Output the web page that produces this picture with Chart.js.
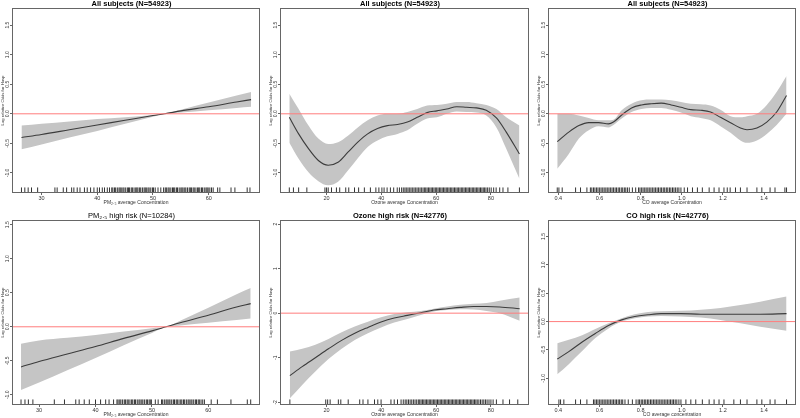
<!DOCTYPE html>
<html>
<head>
<meta charset="utf-8">
<script src="https://cdn.jsdelivr.net/npm/chart.js@4.4.0/dist/chart.umd.min.js"></script>
<style>
  html, body { margin: 0; padding: 0; background: #fff; overflow: hidden; }
  body { width: 800px; height: 418px; position: relative; }
  canvas { position: absolute; }
</style>
</head>
<body>
<canvas id="p1" width="265" height="207" style="left:0px;top:-1px"></canvas>
<canvas id="p2" width="266" height="207" style="left:268px;top:-1px"></canvas>
<canvas id="p3" width="265" height="207" style="left:536px;top:-1px"></canvas>
<canvas id="p4" width="265" height="207" style="left:0px;top:211px"></canvas>
<canvas id="p5" width="266" height="207" style="left:268px;top:211px"></canvas>
<canvas id="p6" width="265" height="207" style="left:536px;top:211px"></canvas>
<script>
// tick labels
const pmTicks = [30, 40, 50, 60];
const ozoneTicks = [20, 40, 60, 80];
const coTicks = [0.4, 0.6, 0.8, 1.0, 1.2, 1.4];
const oddsTicks = [-1.0, -0.5, 0.0, 0.5, 1.0, 1.5];
const oddsTicksWide = [-2, -1, 0, 1, 2];

// PM2.5, all subjects
const pmAllX = [26.4, 30, 35, 40, 45, 50, 52.1, 55, 60, 65, 67.6];
const pmAllFit = [-0.40, -0.35, -0.27, -0.19, -0.11, -0.03, 0, 0.05, 0.12, 0.20, 0.24];
const pmAllUpper = [-0.20, -0.17, -0.13, -0.09, -0.06, -0.02, 0, 0.07, 0.19, 0.31, 0.37];
const pmAllLower = [-0.60, -0.52, -0.40, -0.29, -0.17, -0.05, 0, 0.02, 0.06, 0.10, 0.12];
const rugPmAll = [26.4, 27.0, 27.6, 28.2, 29.3, 32.4, 32.8, 33.9, 34.5, 35.4, 35.8, 36.4, 36.9, 37.7, 38.2, 38.8, 39.4,
  40.0, 40.4, 40.9, 41.3, 41.8, 42.2, 42.6, 42.8, 43.1, 43.3, 43.6, 43.9, 44.1, 44.3, 44.6, 44.8, 45.1, 45.4, 45.6, 45.8,
  46.1, 46.3, 46.6, 46.9, 47.1, 47.3, 47.6, 47.8, 48.1, 48.4, 48.6, 48.8, 49.1, 49.3, 49.6, 49.9, 50.1, 50.4, 50.9, 51.4,
  51.9, 52.2, 52.4, 52.7, 52.9, 53.2, 53.5, 53.7, 53.9, 54.2, 54.4, 54.7, 55.0, 55.2, 55.4, 55.7, 55.9, 56.2, 56.5, 56.7,
  56.9, 57.2, 57.4, 57.7, 58.0, 58.2, 58.4, 58.7, 58.9, 59.2, 59.5, 59.7, 59.9, 60.2, 60.5, 60.8, 61.6, 62.0, 64.0, 64.7,
  66.9, 67.4];

// Ozone, all subjects
const ozAllX = [6.4, 9.8, 13.4, 17.0, 20.6, 24.2, 27.8, 31.4, 35.0, 38.6, 42.2, 45.9, 49.5, 53.1, 56.7, 60.3, 63.9, 67.5, 71.1, 74.7, 78.3, 82.0, 85.6, 90.4];
const ozAllFit = [-0.06, -0.34, -0.59, -0.79, -0.87, -0.82, -0.65, -0.48, -0.34, -0.25, -0.20, -0.18, -0.14, -0.06, 0.02, 0.05, 0.08, 0.12, 0.11, 0.10, 0.06, -0.07, -0.31, -0.68];
const ozAllUpper = [0.34, 0.08, -0.20, -0.42, -0.51, -0.48, -0.37, -0.23, -0.11, -0.03, 0.00, 0.00, 0.03, 0.08, 0.14, 0.15, 0.17, 0.20, 0.20, 0.18, 0.15, 0.08, -0.06, -0.20];
const ozAllLower = [-0.49, -0.76, -0.99, -1.14, -1.21, -1.15, -0.96, -0.75, -0.56, -0.45, -0.38, -0.34, -0.28, -0.17, -0.08, -0.06, 0.00, 0.04, 0.03, 0.02, -0.03, -0.23, -0.59, -1.10];
const rugOzAll = [6.4, 7.9, 9.8, 12.8, 19.4, 20.0, 20.6, 21.8, 23.6, 24.8, 27.0, 28.1, 30.2, 31.7, 33.8, 36.0, 38.0, 39.1,
  40.2, 41.0, 42.1, 43.3, 44.5, 45.8, 46.6, 47.4, 48.0, 48.6, 49.1, 49.7, 50.2, 50.8, 51.3, 51.9, 52.4, 53.0, 53.5, 54.1,
  54.6, 55.2, 55.7, 56.2, 56.7, 57.2, 57.7, 58.2, 58.7, 59.2, 59.7, 60.2, 60.7, 61.2, 61.7, 62.2, 62.7, 63.2, 63.7, 64.2,
  64.7, 65.2, 65.7, 66.2, 66.7, 67.2, 67.7, 68.2, 68.7, 69.2, 69.7, 70.2, 70.7, 71.2, 71.7, 72.2, 72.7, 73.2, 73.7, 74.2,
  74.7, 75.2, 75.7, 76.2, 76.7, 77.2, 77.7, 78.2, 78.8, 79.4, 80.1, 81.0, 81.9, 83.2, 84.4, 86.2, 90.4];

// CO, all subjects
const coAllX = [0.395, 0.451, 0.500, 0.548, 0.596, 0.644, 0.668, 0.708, 0.756, 0.804, 0.852, 0.900, 0.948, 0.996, 1.044, 1.092, 1.140, 1.188, 1.237, 1.285, 1.317, 1.365, 1.413, 1.461, 1.509];
const coAllFit = [-0.47, -0.31, -0.20, -0.15, -0.15, -0.17, -0.14, -0.02, 0.10, 0.15, 0.17, 0.18, 0.15, 0.11, 0.07, 0.06, 0.03, -0.06, -0.15, -0.24, -0.27, -0.24, -0.14, 0.03, 0.31];
const coAllUpper = [0.00, 0.00, -0.03, -0.07, -0.11, -0.11, -0.10, 0.06, 0.17, 0.23, 0.24, 0.24, 0.23, 0.20, 0.17, 0.16, 0.14, 0.07, -0.04, -0.06, -0.04, 0.00, 0.15, 0.37, 0.64];
const coAllLower = [-0.93, -0.68, -0.42, -0.28, -0.21, -0.23, -0.19, -0.08, 0.03, 0.08, 0.10, 0.10, 0.07, 0.02, -0.04, -0.07, -0.11, -0.21, -0.32, -0.45, -0.49, -0.45, -0.34, -0.19, 0.00];
const rugCoAll = [0.395, 0.403, 0.419, 0.484, 0.508, 0.539, 0.556, 0.563, 0.571, 0.578, 0.586, 0.593, 0.601, 0.608, 0.616,
  0.623, 0.631, 0.638, 0.646, 0.653, 0.661, 0.668, 0.676, 0.683, 0.691, 0.698, 0.706, 0.713, 0.721, 0.728, 0.736, 0.745,
  0.760, 0.776, 0.790, 0.797, 0.805, 0.812, 0.820, 0.827, 0.835, 0.842, 0.850, 0.857, 0.865, 0.872, 0.880, 0.887, 0.895,
  0.902, 0.910, 0.917, 0.925, 0.932, 0.940, 0.947, 0.955, 0.962, 0.970, 0.978, 0.986, 0.996, 1.012, 1.028, 1.052, 1.076,
  1.100, 1.133, 1.157, 1.181, 1.205, 1.221, 1.235, 1.261, 1.285, 1.317, 1.365, 1.389, 1.429, 1.453, 1.501, 1.509];

// PM2.5 high risk
const pmHighX = [26.8, 30, 35, 40, 45, 50, 52.5, 55, 60, 65, 67.5];
const pmHighFit = [-0.59, -0.51, -0.40, -0.29, -0.17, -0.06, 0, 0.06, 0.17, 0.29, 0.34];
const pmHighUpper = [-0.25, -0.20, -0.16, -0.12, -0.07, -0.02, 0, 0.09, 0.28, 0.48, 0.57];
const pmHighLower = [-0.93, -0.82, -0.64, -0.46, -0.27, -0.09, 0, 0.02, 0.06, 0.10, 0.12];
const rugPmHigh = [26.8, 27.5, 28.1, 28.9, 32.7, 34.5, 36.5, 37.1, 38.0, 38.9, 40.0, 40.9, 41.8, 42.4, 43.2, 43.8, 44.0,
  44.3, 44.5, 44.8, 45.1, 45.3, 45.6, 45.8, 46.1, 46.4, 46.6, 46.9, 47.1, 47.4, 47.7, 47.9, 48.2, 48.4, 48.7, 49.0, 49.2,
  49.5, 49.7, 49.9, 50.6, 51.1, 51.7, 51.9, 52.2, 52.5, 52.7, 53.0, 53.2, 53.5, 53.8, 54.0, 54.3, 54.5, 54.8, 55.1, 55.3,
  55.6, 55.8, 56.1, 56.4, 56.6, 56.9, 57.1, 57.4, 57.7, 57.9, 58.2, 58.4, 58.7, 59.0, 59.3, 60.5, 61.6, 64.0, 66.9, 67.5];

// Ozone high risk
const ozHighX = [6.6, 11.1, 15.9, 20.7, 25.5, 30.3, 35.1, 39.9, 44.7, 49.5, 54.4, 59.2, 64.0, 68.8, 73.6, 78.4, 83.2, 90.5];
const ozHighFit = [-1.40, -1.20, -1.00, -0.80, -0.61, -0.45, -0.32, -0.20, -0.11, -0.05, 0.01, 0.07, 0.10, 0.13, 0.15, 0.15, 0.14, 0.10];
const ozHighUpper = [-0.86, -0.80, -0.71, -0.58, -0.43, -0.30, -0.19, -0.09, -0.02, 0.02, 0.05, 0.10, 0.15, 0.19, 0.21, 0.23, 0.28, 0.35];
const ozHighLower = [-1.91, -1.61, -1.31, -1.03, -0.80, -0.60, -0.45, -0.32, -0.21, -0.13, -0.04, 0.04, 0.07, 0.09, 0.08, 0.05, 0.00, -0.17];
const rugOzHigh = [6.6, 19.7, 20.4, 21.3, 24.3, 25.2, 27.9, 32.1, 33.3, 35.1, 37.5, 38.7, 39.9, 43.5, 44.7, 45.9, 47.2,
  48.0, 48.7, 49.3, 49.9, 50.5, 51.1, 51.7, 52.3, 52.9, 53.5, 54.0, 54.5, 55.0, 55.5, 56.0, 56.5, 57.0, 57.5, 58.0, 58.5,
  59.0, 59.5, 60.0, 60.5, 61.0, 61.5, 62.0, 62.5, 63.0, 63.5, 64.0, 64.5, 65.0, 65.5, 66.0, 66.5, 67.0, 67.5, 68.0, 68.5,
  69.0, 69.5, 70.0, 70.5, 71.0, 71.5, 72.0, 72.5, 73.0, 73.5, 74.0, 74.5, 75.0, 75.6, 76.2, 76.8, 77.4, 78.0, 78.6, 79.3,
  80.0, 80.8, 82.0, 84.4, 86.8, 89.8];

// CO high risk
const coHighX = [0.395, 0.451, 0.516, 0.580, 0.644, 0.708, 0.772, 0.836, 0.900, 0.996, 1.092, 1.188, 1.285, 1.381, 1.509];
const coHighFit = [-0.66, -0.53, -0.36, -0.21, -0.07, 0.03, 0.09, 0.12, 0.14, 0.14, 0.13, 0.13, 0.13, 0.13, 0.14];
const coHighUpper = [-0.38, -0.32, -0.24, -0.13, -0.03, 0.06, 0.13, 0.17, 0.18, 0.19, 0.21, 0.24, 0.29, 0.35, 0.44];
const coHighLower = [-0.93, -0.75, -0.52, -0.29, -0.12, 0.00, 0.06, 0.09, 0.10, 0.09, 0.07, 0.03, -0.03, -0.09, -0.16];
const rugCoHigh = [0.403, 0.411, 0.427, 0.484, 0.508, 0.539, 0.571, 0.578, 0.586, 0.593, 0.601, 0.608, 0.616, 0.623,
  0.631, 0.638, 0.646, 0.653, 0.661, 0.668, 0.676, 0.683, 0.691, 0.698, 0.706, 0.713, 0.724, 0.740, 0.760, 0.778, 0.788,
  0.795, 0.803, 0.810, 0.818, 0.825, 0.833, 0.840, 0.848, 0.855, 0.863, 0.870, 0.878, 0.885, 0.893, 0.900, 0.908, 0.915,
  0.923, 0.930, 0.938, 0.945, 0.953, 0.960, 0.968, 0.976, 0.986, 0.996, 1.020, 1.044, 1.068, 1.100, 1.133, 1.157, 1.181,
  1.205, 1.253, 1.285, 1.317, 1.365, 1.389, 1.429, 1.453, 1.509];

Chart.defaults.font.family = "'Liberation Sans', Arial, sans-serif";
Chart.defaults.color = '#333';

// box round the plot region and R-style vertical y tick labels
const framePlugin = {
  id: 'frame',
  afterDraw(chart, args, opts) {
    const ctx = chart.ctx;
    const a = chart.chartArea;
    const y = chart.scales.y;
    ctx.save();
    ctx.strokeStyle = '#666';
    ctx.lineWidth = 1;
    ctx.strokeRect(a.left + 0.5, a.top + 0.5, a.right - a.left - 1, a.bottom - a.top - 1);
    ctx.fillStyle = '#333';
    ctx.font = "5px 'Liberation Sans', Arial, sans-serif";
    ctx.textAlign = 'center';
    ctx.textBaseline = 'middle';
    y.ticks.forEach(t => {
      ctx.save();
      ctx.translate(a.left - 4.5, y.getPixelForValue(t.value));
      ctx.rotate(-Math.PI / 2);
      ctx.fillText(t.value.toFixed(opts.decimals), 0, 0);
      ctx.restore();
    });
    ctx.restore();
  }
};

function toPoints(xs, ys) {
  return xs.map((x, i) => ({ x: x, y: ys[i] }));
}

function makePanel(id, p) {
  const yMin = p.yRange[0];
  const yMax = p.yRange[1];
  const rugY = yMin + (yMax - yMin) * 0.016;
  const tickGrid = { display: true, drawOnChartArea: false, drawTicks: true, tickLength: 2, color: '#666' };

  new Chart(document.getElementById(id), {
    type: 'line',
    data: {
      datasets: [
        {
          data: [{ x: p.xRange[0], y: 0 }, { x: p.xRange[1], y: 0 }],
          borderColor: 'rgb(255,125,125)', borderWidth: 1, pointRadius: 0
        },
        {
          data: toPoints(p.x, p.fit),
          borderColor: '#3c3c3c', borderWidth: 1.1, pointRadius: 0, cubicInterpolationMode: 'monotone'
        },
        {
          data: p.rug.map(v => ({ x: v, y: rugY })),
          showLine: false, pointStyle: 'line', pointRotation: 90, pointRadius: 2.6,
          pointBorderColor: 'rgba(0,0,0,0.8)', pointBorderWidth: 1
        },
        {
          data: toPoints(p.x, p.upper),
          borderColor: 'rgba(0,0,0,0)', borderWidth: 0, pointRadius: 0, fill: '+1',
          backgroundColor: 'rgb(197,197,197)', cubicInterpolationMode: 'monotone'
        },
        {
          data: toPoints(p.x, p.lower),
          borderColor: 'rgba(0,0,0,0)', borderWidth: 0, pointRadius: 0, cubicInterpolationMode: 'monotone'
        }
      ]
    },
    options: {
      responsive: false,
      animation: false,
      events: [],
      layout: { padding: { left: 0, right: 2, top: 0, bottom: 0 } },
      plugins: {
        legend: { display: false },
        tooltip: { enabled: false },
        title: {
          display: true, text: p.title, padding: 0, color: '#000',
          font: { size: 7.5, weight: p.titleWeight }
        },
        frame: { decimals: p.yDec }
      },
      scales: {
        x: {
          type: 'linear', min: p.xRange[0], max: p.xRange[1],
          afterBuildTicks: s => { s.ticks = p.xTicks.map(v => ({ value: v })); },
          afterFit: s => { s.height = 13; },
          grid: tickGrid,
          border: { display: false },
          ticks: { padding: 0, maxRotation: 0, autoSkip: false, font: { size: 5.5 }, callback: v => v.toFixed(p.xDec) },
          title: { display: true, text: p.xTitle, padding: 0, font: { size: 5 } }
        },
        y: {
          type: 'linear', min: yMin, max: yMax,
          afterBuildTicks: s => { s.ticks = p.yTicks.map(v => ({ value: v })); },
          afterFit: s => { s.width = 12; },
          grid: tickGrid,
          border: { display: false },
          ticks: { display: false },
          title: { display: true, text: 'Log relative Odds for Hosp', padding: 0, font: { size: 4.2 } }
        }
      }
    },
    plugins: [framePlugin]
  });
}

makePanel('p1', {
  title: 'All subjects (N=54923)', titleWeight: 'bold', xTitle: 'PM\u2082.\u2085 average Concentration',
  x: pmAllX, fit: pmAllFit, upper: pmAllUpper, lower: pmAllLower, rug: rugPmAll,
  xRange: [24.7, 69.2], yRange: [-1.34, 1.79], xTicks: pmTicks, xDec: 0, yTicks: oddsTicks, yDec: 1
});
makePanel('p2', {
  title: 'All subjects (N=54923)', titleWeight: 'bold', xTitle: 'Ozone average Concentration',
  x: ozAllX, fit: ozAllFit, upper: ozAllUpper, lower: ozAllLower, rug: rugOzAll,
  xRange: [3.0, 93.9], yRange: [-1.34, 1.79], xTicks: ozoneTicks, xDec: 0, yTicks: oddsTicks, yDec: 1
});
makePanel('p3', {
  title: 'All subjects (N=54923)', titleWeight: 'bold', xTitle: 'CO average Concentration',
  x: coAllX, fit: coAllFit, upper: coAllUpper, lower: coAllLower, rug: rugCoAll,
  xRange: [0.35, 1.555], yRange: [-1.34, 1.79], xTicks: coTicks, xDec: 1, yTicks: oddsTicks, yDec: 1
});
makePanel('p4', {
  title: 'PM\u2082.\u2085 high risk (N=10284)', titleWeight: 'normal', xTitle: 'PM\u2082.\u2085 average Concentration',
  x: pmHighX, fit: pmHighFit, upper: pmHighUpper, lower: pmHighLower, rug: rugPmHigh,
  xRange: [25.2, 69.15], yRange: [-1.15, 1.57], xTicks: pmTicks, xDec: 0, yTicks: oddsTicks, yDec: 1
});
makePanel('p5', {
  title: 'Ozone high risk (N=42776)', titleWeight: 'bold', xTitle: 'Ozone average Concentration',
  x: ozHighX, fit: ozHighFit, upper: ozHighUpper, lower: ozHighLower, rug: rugOzHigh,
  xRange: [3.0, 93.9], yRange: [-2.06, 2.09], xTicks: ozoneTicks, xDec: 0, yTicks: oddsTicksWide, yDec: 0
});
makePanel('p6', {
  title: 'CO high risk (N=42776)', titleWeight: 'bold', xTitle: 'CO average concentration',
  x: coHighX, fit: coHighFit, upper: coHighUpper, lower: coHighLower, rug: rugCoHigh,
  xRange: [0.35, 1.555], yRange: [-1.47, 1.79], xTicks: coTicks, xDec: 1, yTicks: oddsTicks, yDec: 1
});
</script>
</body>
</html>
